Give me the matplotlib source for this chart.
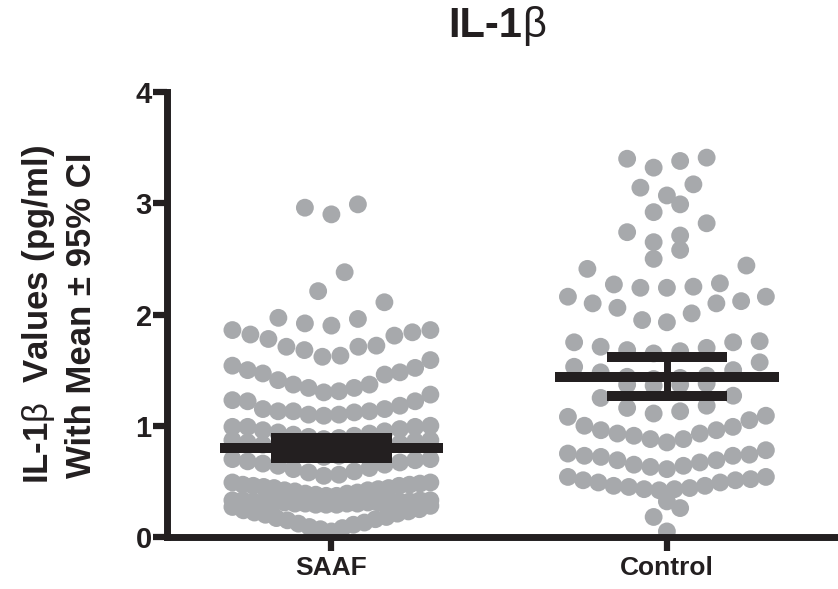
import numpy as np
import matplotlib
matplotlib.use("Agg")
import matplotlib.pyplot as plt

plt.rcParams['font.family'] = ['Liberation Sans', 'DejaVu Sans']
plt.rcParams['mathtext.fontset'] = 'custom'
plt.rcParams['mathtext.rm'] = 'Liberation Sans'
plt.rcParams['mathtext.default'] = 'rm'

# ---------------- data ----------------
categories = ["SAAF", "Control"]

saaf_values = [
    2.96, 2.90, 2.99,
    2.21, 2.38,
    1.97, 1.92, 1.90, 1.96, 2.11,
    1.86, 1.82, 1.78, 1.71, 1.68, 1.62, 1.63, 1.71, 1.72, 1.81, 1.84, 1.86,
    1.59, 1.52, 1.48, 1.46, 1.37, 1.34, 1.31, 1.30, 1.34, 1.37, 1.41, 1.47, 1.50, 1.54,
    1.23, 1.22, 1.15, 1.13, 1.13, 1.10, 1.09, 1.10, 1.12, 1.13, 1.15, 1.18, 1.22, 1.28,
    0.99, 0.99, 0.96, 0.94, 0.92, 0.90, 0.88, 0.89, 0.91, 0.93, 0.95, 0.97, 0.99, 1.00,
    0.87, 0.86, 0.84, 0.82, 0.79, 0.76, 0.73, 0.72, 0.75, 0.78, 0.81, 0.83, 0.85, 0.87,
    0.70, 0.69, 0.67, 0.65, 0.62, 0.59, 0.56, 0.55, 0.58, 0.61, 0.64, 0.66, 0.68, 0.70,
    0.37, 0.37, 0.38, 0.39, 0.39, 0.40, 0.41, 0.42, 0.42, 0.43,
    0.44, 0.44, 0.45, 0.46, 0.46, 0.47, 0.47, 0.48, 0.49, 0.49,
    0.29, 0.29, 0.29, 0.30, 0.30, 0.30, 0.30, 0.31, 0.31, 0.31,
    0.31, 0.31, 0.32, 0.32, 0.32, 0.32, 0.33, 0.33, 0.33, 0.33,
    0.05, 0.07, 0.08, 0.09, 0.11, 0.12, 0.13, 0.15, 0.16, 0.17,
    0.18, 0.20, 0.21, 0.22, 0.23, 0.24, 0.25, 0.27, 0.28,
]

control_values = [
    3.40, 3.32, 3.38, 3.41,
    3.17, 3.14, 3.07,
    2.99, 2.92,
    2.82, 2.74, 2.71, 2.65,
    2.58, 2.50,
    2.44, 2.41, 2.28, 2.25, 2.24, 2.24, 2.27,
    2.16, 2.10, 2.06, 1.95, 1.93, 2.01, 2.10, 2.12, 2.16,
    1.75, 1.71, 1.68, 1.65, 1.67, 1.70, 1.76, 1.75,
    1.57, 1.50, 1.43, 1.42, 1.44, 1.45, 1.48, 1.53,
    1.36, 1.37, 1.37, 1.38,
    1.11, 1.13, 1.16, 1.18, 1.25, 1.27,
    1.09, 1.00, 0.96, 0.93, 0.91, 0.88, 0.85, 0.88, 0.93, 0.96, 0.99, 1.05, 1.08,
    0.78, 0.73, 0.72, 0.69, 0.67, 0.64, 0.61, 0.63, 0.65, 0.69, 0.73, 0.74, 0.75,
    0.54, 0.51, 0.49, 0.46, 0.44, 0.43, 0.42, 0.43, 0.45, 0.46, 0.49, 0.51, 0.52, 0.54,
    0.32, 0.26, 0.18, 0.05,
]

means = [0.80, 1.44]
ci_low = [0.712, 1.27]
ci_high = [0.888, 1.62]

yticks = [0, 1, 2, 3, 4]
title_main = "IL-1"
title_greek = "\u03b2"
ylabel_text = "IL-1$\\mathrm{\\beta}$  Values (pg/ml)\nWith Mean \u00b1 95% CI"

# ---------------- layout parameters (Prism-style row scatter) ----------------
saaf_rows = [0, 0.285, 0.335, 0.53, 0.715, 0.875, 1.02, 1.29, 1.60, 1.88, 2.15, 2.6, 3.5]
control_rows = [0, 0.15, 0.30, 0.40, 0.58, 0.80, 1.10, 1.30, 1.40, 1.60, 1.90,
                2.20, 2.47, 2.60, 2.90, 3.05, 3.30, 3.5]
MAX_STEP = 0.079
MAX_WIDTH = 0.59


def row_offsets(values, edges, max_step=MAX_STEP, max_width=MAX_WIDTH):
    values = np.asarray(values, dtype=float)
    offsets = np.zeros(len(values))
    bins = np.digitize(values, edges)
    for b in np.unique(bins):
        idx = np.where(bins == b)[0]
        idx = idx[np.argsort(values[idx], kind="stable")]
        n = len(idx)
        step = max_step if n < 2 else min(max_step, max_width / (n - 1))
        for k, i in enumerate(idx):
            if n % 2 == 1:
                m = (k + 1) // 2
                slot = -m if k % 2 == 1 else m
            else:
                m = k // 2 + 0.5
                slot = -m if k % 2 == 0 else m
            offsets[i] = slot * step
    return offsets


DOT = "#a7a9ac"
INK = "#231f20"

fig = plt.figure(figsize=(8.38, 5.89), dpi=100)
ax = fig.add_axes([167 / 838, (589 - 537) / 589, (838 - 167) / 838, (537 - 92) / 589])

groups = [saaf_values, control_values]
edges_list = [saaf_rows, control_rows]
for gi, (vals, edges) in enumerate(zip(groups, edges_list)):
    off = row_offsets(vals, edges)
    ax.scatter(gi + off, vals, s=165, color=DOT, edgecolors="none",
               zorder=2, clip_on=False)

for gi in range(len(categories)):
    ax.hlines(means[gi], gi - 0.333, gi + 0.333, color=INK, lw=7.2, zorder=4)
    ax.hlines([ci_low[gi], ci_high[gi]], gi - 0.18, gi + 0.18, color=INK, lw=7.2, zorder=4)
    ax.vlines(gi, ci_low[gi], ci_high[gi], color=INK, lw=5, zorder=4)

ax.set_xlim(-0.49, 1.51)
ax.set_ylim(0, 4)
ax.set_yticks(yticks)
ax.set_xticks(range(len(categories)))
ax.set_xticklabels(categories)

for side in ["top", "right"]:
    ax.spines[side].set_visible(False)
for side in ["left", "bottom"]:
    ax.spines[side].set_linewidth(5)
    ax.spines[side].set_color(INK)
    ax.spines[side].set_zorder(5)
    ax.spines[side].set_capstyle("projecting")

ax.tick_params(axis="both", length=10, width=4.5, color=INK, labelcolor=INK)
ax.tick_params(axis="y", pad=1, labelsize=21)
ax.tick_params(axis="x", pad=4, labelsize=19)
for lab in ax.get_xticklabels() + ax.get_yticklabels():
    lab.set_fontweight("bold")

fig.text(59 / 838, 1 - 315 / 589, ylabel_text, rotation=90, ha="center", va="center",
         multialignment="center", fontsize=25, fontweight="bold", color=INK,
         linespacing=1.27)

# title: bold "IL-1" followed by a regular-weight beta
fig.text(522 / 838, 1 - 26 / 589, title_main, ha="right", va="center",
         fontsize=30, fontweight="bold", color=INK)
fig.text(522 / 838, 1 - 26 / 589, title_greek, ha="left", va="center",
         fontsize=30, fontweight="normal", color=INK)

fig.savefig("out.png", dpi=100, facecolor="white")
